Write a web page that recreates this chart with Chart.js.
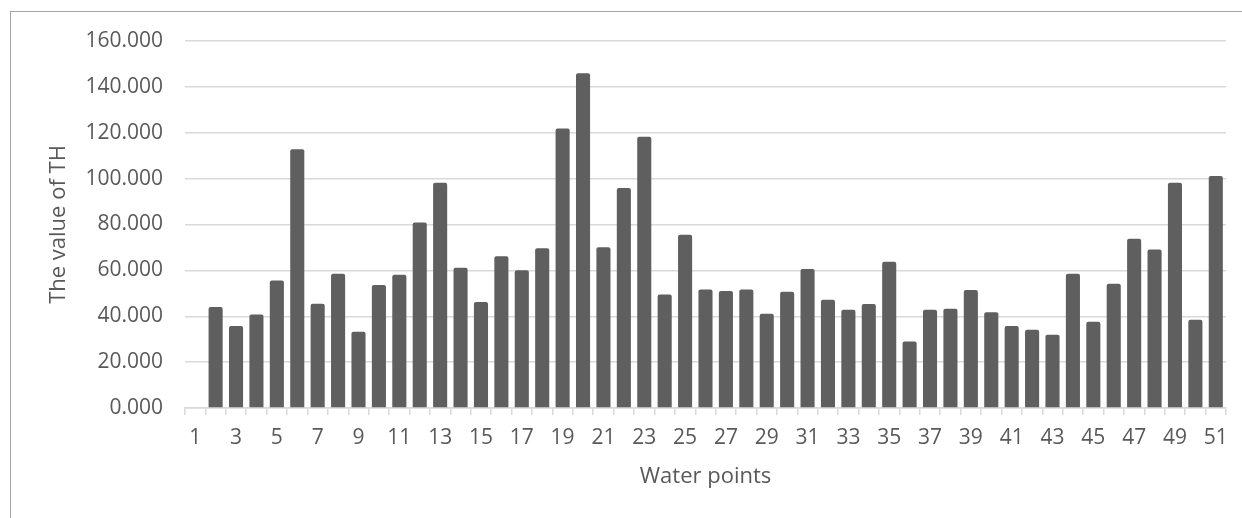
<!DOCTYPE html>
<html>
<head>
<meta charset="utf-8">
<script src="https://cdn.jsdelivr.net/npm/chart.js@4"></script>
<style>
  html, body { margin: 0; padding: 0; background: #fff; overflow: hidden; }
  #wrap { position: relative; width: 1242px; height: 518px; }
  #frame { position: absolute; left: 10px; top: 11px; width: 1400px; height: 700px; border: 1px solid #a6a6a6; }
  canvas { position: absolute; left: 0; top: 0; }
</style>
</head>
<body>
<div id="wrap">
  <div id="frame"></div>
  <canvas id="th-chart" width="1242" height="518"></canvas>
</div>
<script>
// data
const waterPoints = [];
for (let i = 1; i <= 51; i++) waterPoints.push(String(i));

const thValues = [
  null, 44.0, 35.8, 40.8, 55.6, 112.8, 45.4, 58.5, 33.2, 53.6,
  58.1, 80.9, 98.2, 61.1, 46.2, 66.2, 60.1, 69.7, 121.8, 145.9,
  70.1, 95.9, 118.3, 49.5, 75.5, 51.7, 51.0, 51.7, 41.1, 50.7,
  60.6, 47.2, 42.8, 45.3, 63.8, 29.0, 42.8, 43.3, 51.4, 41.7,
  35.8, 34.1, 31.9, 58.5, 37.6, 54.2, 73.8, 69.1, 98.2, 38.5,
  101.1
];

const yTicks = [0, 20, 40, 60, 80, 100, 120, 140, 160];

const FONT = "'Open Sans', 'Liberation Sans', sans-serif";
const TEXT = '#595959';

new Chart(document.getElementById('th-chart'), {
  type: 'bar',
  data: {
    labels: waterPoints,
    datasets: [{
      label: 'TH',
      data: thValues,
      backgroundColor: '#5f5f5f',
      borderRadius: 2,
      borderSkipped: 'bottom',
      categoryPercentage: 1,
      barPercentage: 0.69
    }]
  },
  options: {
    responsive: false,
    animation: false,
    layout: { padding: { top: 41, right: 16, left: 0, bottom: 0 } },
    plugins: { legend: { display: false }, tooltip: { enabled: false } },
    scales: {
      x: {
        afterFit: s => { s.height = 110; },
        grid: { drawOnChartArea: false, drawTicks: true, tickLength: 7, color: '#d9d9d9', lineWidth: 1.5 },
        border: { color: '#d9d9d9', width: 1.5 },
        ticks: {
          autoSkip: false, maxRotation: 0, padding: 10, color: TEXT,
          font: { family: FONT, size: 21 },
          callback: (v, i) => (i % 2 === 0 ? waterPoints[i] : '')
        },
        title: {
          display: true, text: 'Water points', color: TEXT,
          font: { family: FONT, size: 22 }, padding: { top: 0, bottom: 28 }
        }
      },
      y: {
        min: 0, max: 160,
        afterFit: s => { s.width = 185; },
        afterBuildTicks: s => { s.ticks = yTicks.map(v => ({ value: v })); },
        grid: { color: '#d9d9d9', lineWidth: 1.5, drawTicks: false },
        border: { display: false },
        ticks: {
          padding: 22, color: TEXT,
          font: { family: FONT, size: 21 },
          callback: v => v.toFixed(3)
        },
        title: {
          display: true, text: 'The value of TH', color: TEXT,
          font: { family: FONT, size: 22 }, padding: { top: 46, bottom: 0 }
        }
      }
    }
  }
});
</script>
</body>
</html>
